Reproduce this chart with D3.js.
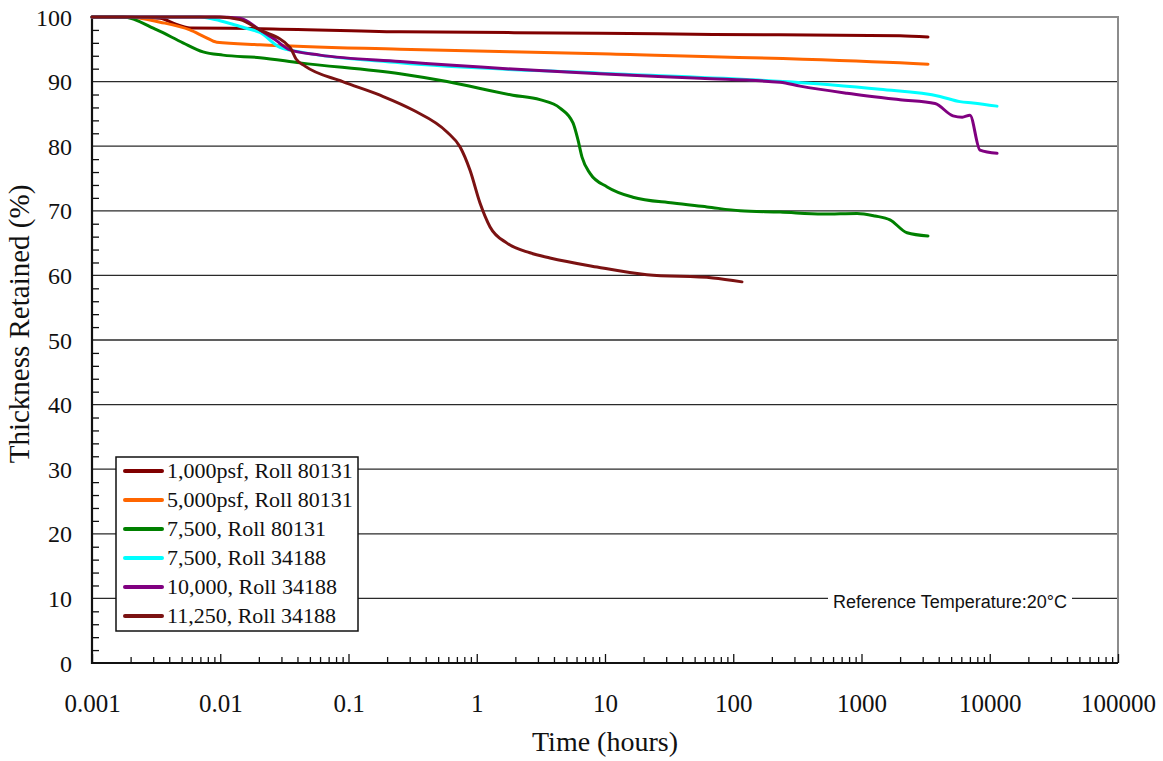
<!DOCTYPE html>
<html>
<head>
<meta charset="utf-8">
<script src="https://cdn.jsdelivr.net/npm/d3@7"></script>
<style>
  body { margin: 0; background: #fff; }
  svg { display: block; }
</style>
</head>
<body>
<svg id="chart" width="1163" height="761"></svg>
<script>
// Creep test series: [time in hours, thickness retained in %]
const seriesNames = [
  "1,000psf, Roll 80131",
  "5,000psf, Roll 80131",
  "7,500, Roll 80131",
  "7,500, Roll 34188",
  "10,000, Roll 34188",
  "11,250, Roll 34188"
];
const seriesColors = ["#800000", "#FF6600", "#008000", "#00FFFF", "#800080", "#7B1212"];

const psf1000Roll80131 = [
  [0.001, 100], [0.0028, 99.9], [0.0034, 99.8], [0.0045, 98.9], [0.0058, 98.3],
  [0.0204, 98.2], [0.252, 97.7], [9.14, 97.5], [69.5, 97.3], [1995, 97.1], [3300, 96.9]
];
const psf5000Roll80131 = [
  [0.001, 100], [0.0019, 100], [0.0034, 99.2], [0.0058, 98.0], [0.0076, 96.9],
  [0.0094, 96.1], [0.0204, 95.7], [0.252, 95.0], [9.14, 94.3], [1995, 92.9], [3300, 92.7]
];
const psf7500Roll80131 = [
  [0.001, 100], [0.00174, 100], [0.00321, 98.0], [0.00512, 96.0], [0.00734, 94.6],
  [0.0105, 94.1], [0.0204, 93.7], [0.0419, 92.9], [0.252, 91.2], [0.586, 90.0],
  [1.91, 87.9], [3.11, 87.2], [4.46, 85.9], [5.63, 83.6], [6.15, 81.0], [6.62, 78.3],
  [7.64, 75.8], [10.4, 73.7], [16.5, 72.1], [33.9, 71.2], [62.4, 70.6], [113, 70.0],
  [232, 69.8], [500, 69.5], [923, 69.6], [1274, 69.2], [1668, 68.6], [2265, 66.6], [3300, 66.1]
];
const psf7500Roll34188 = [
  [0.001, 100], [0.00695, 100], [0.0091, 99.6], [0.0119, 99.0], [0.0156, 98.3],
  [0.0204, 97.6], [0.0292, 95.3], [0.0419, 94.6], [0.252, 92.9], [9.14, 91.3],
  [135, 90.3], [568, 89.5], [1394, 88.8], [4097, 87.7], [5860, 86.9], [7400, 86.7], [11400, 86.2]
];
const psf10000Roll34188 = [
  [0.001, 100], [0.0091, 100], [0.01426, 99.8], [0.0204, 98.0], [0.0267, 96.5],
  [0.035, 94.9], [0.06, 94.1], [0.252, 93.1], [9.14, 91.2], [55.1, 90.5], [232, 89.9],
  [332, 89.3], [771, 88.2], [1995, 87.2], [3745, 86.6], [5170, 84.7], [6100, 84.5],
  [7010, 84.8], [8390, 79.4], [11400, 78.9]
];
const psf11250Roll34188 = [
  [0.001, 100], [0.00995, 100], [0.01426, 99.6], [0.0204, 98.0], [0.035, 95.3],
  [0.039, 93.5], [0.0458, 92.4], [0.09, 90.0], [0.176, 87.9], [0.318, 85.6],
  [0.586, 82.2], [0.74, 79.9], [0.885, 76.3], [1.06, 71.2], [1.27, 67.5], [1.72, 65.0],
  [2.6, 63.5], [3.72, 62.7], [8.67, 61.3], [21.2, 60.1], [69.5, 59.6], [117, 59.0]
];
const seriesValues = [
  psf1000Roll80131, psf5000Roll80131, psf7500Roll80131,
  psf7500Roll34188, psf10000Roll34188, psf11250Roll34188
];

const xTickValues = [0.001, 0.01, 0.1, 1, 10, 100, 1000, 10000, 100000];
const xTickLabels = ["0.001", "0.01", "0.1", "1", "10", "100", "1000", "10000", "100000"];
const yTickValues = [0, 10, 20, 30, 40, 50, 60, 70, 80, 90, 100];

const xTitle = "Time (hours)";
const yTitle = "Thickness Retained (%)";
const noteText = "Reference Temperature:20°C";

// ---- layout ----
const L = 92, R = 1118, T = 17, B = 663;
const serif = "'Liberation Serif', 'Times New Roman', serif";
const sans = "'Liberation Sans', Arial, sans-serif";

const svg = d3.select("#chart");
const x = d3.scaleLog().domain([0.001, 100000]).range([L, R]);
const y = d3.scaleLinear().domain([0, 100]).range([B, T]);

// horizontal gridlines at the labelled values
svg.append("g")
  .selectAll("line")
  .data(yTickValues.filter(v => v > 0 && v < 100))
  .join("line")
  .attr("x1", L).attr("x2", R)
  .attr("y1", d => y(d)).attr("y2", d => y(d))
  .attr("stroke", "#2a2a2a").attr("stroke-width", 1.3);

// plot frame: grey top/right, black axes left/bottom
svg.append("path")
  .attr("d", `M${L},${T}H${R}V${B}`)
  .attr("fill", "none").attr("stroke", "#8c8c8c").attr("stroke-width", 2);

// minor y ticks (every 2 %) pointing inward
const yMinor = d3.range(0, 101, 2).filter(v => v % 10 !== 0);
svg.append("g")
  .attr("transform", `translate(${L},0)`)
  .call(d3.axisRight(y).tickValues(yMinor).tickSize(7).tickFormat(""))
  .call(g => g.select(".domain").remove())
  .selectAll("line").attr("stroke", "#111").attr("stroke-width", 1.3);

// minor x ticks (2..9 of each decade) pointing inward
const xMinor = [];
for (let e = -3; e < 5; e++) for (let k = 2; k <= 9; k++) xMinor.push(k * Math.pow(10, e));
svg.append("g")
  .attr("transform", `translate(0,${B})`)
  .call(d3.axisTop(x).tickValues(xMinor).tickSize(6).tickFormat(""))
  .call(g => g.select(".domain").remove())
  .selectAll("line").attr("stroke", "#111").attr("stroke-width", 1.3);
svg.append("g")
  .attr("transform", `translate(0,${B})`)
  .call(d3.axisTop(x).tickValues(xTickValues).tickSize(9).tickFormat(""))
  .call(g => g.select(".domain").remove())
  .selectAll("line").attr("stroke", "#111").attr("stroke-width", 1.3);

// y tick labels
svg.append("g")
  .attr("transform", `translate(${L},0)`)
  .call(d3.axisLeft(y).tickValues(yTickValues).tickSize(0).tickPadding(20))
  .call(g => g.select(".domain").remove())
  .selectAll("text")
  .attr("font-family", serif).attr("font-size", 24).attr("fill", "#111")
  .attr("dy", "0.34em");

// x tick labels
svg.append("g")
  .attr("transform", `translate(0,${B})`)
  .call(d3.axisBottom(x).tickValues(xTickValues).tickSize(0)
    .tickFormat((d, i) => xTickLabels[i]))
  .call(g => g.select(".domain").remove())
  .selectAll("text")
  .attr("font-family", serif).attr("font-size", 25).attr("fill", "#111")
  .attr("y", 40).attr("dy", "0.34em");

// axis lines
svg.append("path")
  .attr("d", `M${L},${T}V${B}H${R}`)
  .attr("fill", "none").attr("stroke", "#111").attr("stroke-width", 2.2);

// note on the 10 % gridline
const note = svg.append("g");
const noteLabel = note.append("text")
  .attr("x", 950).attr("y", y(10) + 5)
  .attr("text-anchor", "middle").attr("dominant-baseline", "middle")
  .attr("font-family", sans).attr("font-size", 18).attr("fill", "#111")
  .text(noteText);
const nb = noteLabel.node().getBBox();
note.insert("rect", "text")
  .attr("x", nb.x - 5).attr("y", y(10) - 2).attr("width", nb.width + 10).attr("height", 4)
  .attr("fill", "#fff");

// data lines
const line = d3.line()
  .x(d => x(d[0])).y(d => y(d[1]))
  .curve(d3.curveMonotoneX);
svg.append("g")
  .selectAll("path")
  .data(seriesValues)
  .join("path")
  .attr("d", line)
  .attr("fill", "none")
  .attr("stroke", (d, i) => seriesColors[i])
  .attr("stroke-width", 3)
  .attr("stroke-linejoin", "round")
  .attr("stroke-linecap", "round");

// legend
const legend = svg.append("g");
legend.append("rect")
  .attr("x", 116).attr("y", 457).attr("width", 242).attr("height", 174)
  .attr("fill", "#fff").attr("stroke", "#111").attr("stroke-width", 1.5);
const rowY = d3.scaleLinear().domain([0, 5]).range([471, 616]);
const rows = legend.selectAll("g.row")
  .data(seriesNames)
  .join("g").attr("class", "row")
  .attr("transform", (d, i) => `translate(0,${rowY(i)})`);
rows.append("line")
  .attr("x1", 125).attr("x2", 162)
  .attr("stroke", (d, i) => seriesColors[i])
  .attr("stroke-width", 4).attr("stroke-linecap", "round");
rows.append("text")
  .attr("x", 167).attr("dy", "0.34em")
  .attr("font-family", serif).attr("font-size", 22).attr("fill", "#111")
  .text(d => d);

// axis titles
svg.append("text")
  .attr("x", (L + R) / 2).attr("y", 745)
  .attr("text-anchor", "middle").attr("dominant-baseline", "middle")
  .attr("font-family", serif).attr("font-size", 28).attr("fill", "#111")
  .text(xTitle);
svg.append("text")
  .attr("transform", "translate(22,324) rotate(-90)")
  .attr("text-anchor", "middle").attr("dominant-baseline", "middle")
  .attr("font-family", serif).attr("font-size", 29).attr("fill", "#111")
  .text(yTitle);
</script>
</body>
</html>
